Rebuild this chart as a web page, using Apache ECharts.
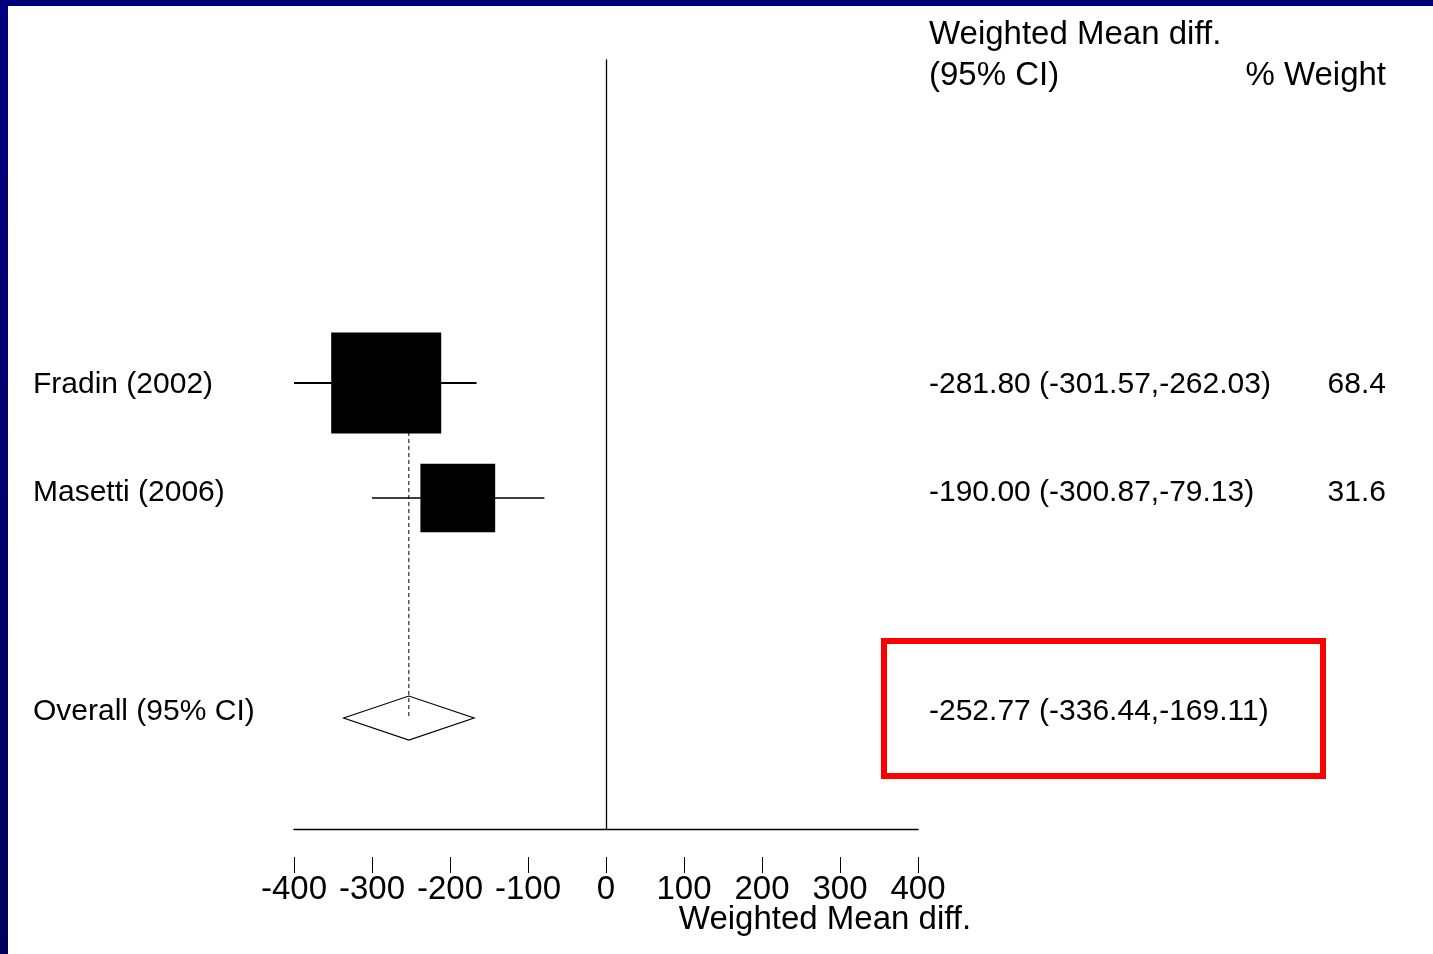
<!DOCTYPE html>
<html><head><meta charset="utf-8">
<script src="https://cdn.jsdelivr.net/npm/echarts@6/dist/echarts.min.js"></script>
<style>html,body{margin:0;padding:0;background:#fff}#c{width:1433px;height:954px}</style>
</head><body><div id="c"></div>
<script>
// ---- data ----
const studies = ['Fradin (2002)', 'Masetti (2006)'];
const estimates = [-281.80, -190.00];
const ciLow = [-301.57, -300.87];
const ciHigh = [-262.03, -79.13];
const whiskerLow = [-400, -300];   // whisker extents as drawn
const whiskerHigh = [-166, -79];
const weights = [68.4, 31.6];
const overallLabel = 'Overall (95% CI)';
const overallEst = -252.77;
const overallLow = -336.44;
const overallHigh = -169.11;
const xTickValues = [-400, -300, -200, -100, 0, 100, 200, 300, 400];
const xTitle = 'Weighted Mean diff.';
const headerEffect = ['Weighted Mean diff.', '(95% CI)'];
const headerWeight = '% Weight';

// ---- layout ----
const FONT = '"Liberation Sans", Arial, sans-serif';
const OVERALL_ROW = studies.length + 1.913;
const TEXT_NUDGE = [2, -5, -6];   // pixel nudges of row text relative to marks
const fmt = v => v.toFixed(2);
const ciText = (e, l, h) => fmt(e) + ' (' + fmt(l) + ',' + fmt(h) + ')';

const rows = studies.map((s, i) => ({
  label: s, y: i + 1, text: ciText(estimates[i], ciLow[i], ciHigh[i]), w: weights[i].toFixed(1)
}));
rows.push({label: overallLabel, y: OVERALL_ROW, text: ciText(overallEst, overallLow, overallHigh), w: ''});

const chart = echarts.init(document.getElementById('c'), null, {renderer: 'canvas'});
const txt = (text, x, y, size, align) => ({
  type: 'text', x: x, y: y, silent: true,
  style: {text: text, fill: '#000', fontSize: size, fontFamily: FONT, align: align || 'left', verticalAlign: 'middle'}
});

chart.setOption({
  animation: false,
  backgroundColor: '#fff',
  grid: {left: 294, width: 624, top: 60, height: 769},
  xAxis: [
    {type: 'value', min: -400, max: 400, interval: 100,
     axisLine: {show: true, onZero: false, lineStyle: {color: '#000', width: 1.3}},
     axisTick: {show: false}, axisLabel: {show: false}, splitLine: {show: false}},
    {type: 'value', min: -400, max: 400, interval: 100, position: 'bottom', offset: 28,
     axisLine: {show: false, onZero: false},
     axisTick: {show: true, length: 16, lineStyle: {color: '#000', width: 1}},
     axisLabel: {show: true, color: '#000', fontSize: 33, fontFamily: FONT, margin: 16,
       customValues: xTickValues},
     splitLine: {show: false}}
  ],
  yAxis: {type: 'value', min: -1.809, max: 4.878, inverse: true,
    axisLine: {show: true, onZero: true, lineStyle: {color: '#000', width: 1.3}},
    axisTick: {show: false}, axisLabel: {show: false}, splitLine: {show: false}},
  series: [
    {type: 'line', xAxisIndex: 0, silent: true, showSymbol: false, z: 1,
     data: [[overallEst, 1], [overallEst, OVERALL_ROW]],
     lineStyle: {color: '#000', width: 1, type: [4, 3]}},
    {type: 'custom', xAxisIndex: 0, clip: false, z: 2,
     data: studies.map((s, i) => [whiskerLow[i], whiskerHigh[i], i + 1]),
     renderItem: (p, api) => {
       const a = api.coord([api.value(0), api.value(2)]);
       const b = api.coord([api.value(1), api.value(2)]);
       return {type: 'line', shape: {x1: a[0], y1: a[1], x2: b[0], y2: b[1]},
         style: {stroke: '#000', lineWidth: p.dataIndex === 0 ? 2 : 1.5}};
     }},
    {type: 'scatter', xAxisIndex: 0, z: 3, symbol: 'rect',
     data: studies.map((s, i) => [estimates[i], i + 1, weights[i]]),
     symbolSize: v => [13.3 * Math.sqrt(v[2]), 12.2 * Math.sqrt(v[2])],
     itemStyle: {color: '#000', opacity: 1}},
    {type: 'custom', xAxisIndex: 0, clip: false, z: 3,
     data: [[overallEst, overallLow, overallHigh, OVERALL_ROW]],
     renderItem: (p, api) => {
       const y = api.value(3);
       const c = api.coord([api.value(0), y]);
       const l = api.coord([api.value(1), y]);
       const r = api.coord([api.value(2), y]);
       const h = 22;
       return {type: 'polygon', shape: {points: [[l[0], l[1]], [c[0], c[1] - h], [r[0], r[1]], [c[0], c[1] + h]]},
         style: {fill: 'rgba(255,255,255,0)', stroke: '#000', lineWidth: 1.2}};
     }},
    {type: 'custom', xAxisIndex: 0, clip: false, z: 4,
     data: rows.map((r, i) => [0, r.y, i]),
     renderItem: (p, api) => {
       const i = api.value(2);
       const r = rows[i];
       const y = api.coord([0, api.value(1)])[1] + TEXT_NUDGE[i];
       return {type: 'group', children: [
         txt(r.label, 33, y, 30, 'left'),
         txt(r.text, 929, y, 30, 'left'),
         txt(r.w, 1386, y, 30, 'right')
       ]};
     }}
  ],
  graphic: [
    {type: 'rect', shape: {x: 0, y: 0, width: 8, height: 954}, silent: true,
     style: {fill: new echarts.graphic.LinearGradient(0, 0, 0, 1, [{offset: 0, color: '#000080'}, {offset: 1, color: '#00005c'}])}},
    {type: 'rect', shape: {x: 0, y: 0, width: 1433, height: 6}, silent: true, style: {fill: '#000078'}},
    txt(headerEffect[0], 929, 35, 33, 'left'),
    txt(headerEffect[1], 929, 76, 33, 'left'),
    txt(headerWeight, 1386, 76, 33, 'right'),
    txt(xTitle, 825, 920, 33, 'center'),
    {type: 'rect', shape: {x: 884, y: 641, width: 439, height: 135}, silent: true,
     style: {fill: null, stroke: '#ff0000', lineWidth: 6}}
  ]
});
</script></body></html>
